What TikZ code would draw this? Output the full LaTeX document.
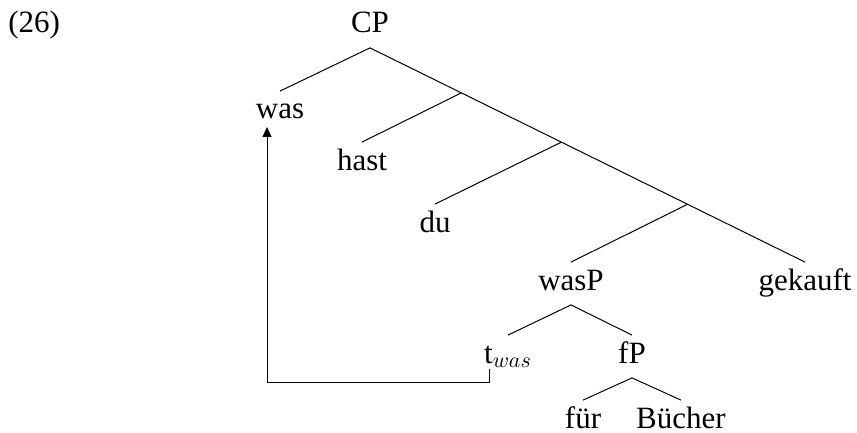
\documentclass[tikz,border=0pt]{standalone}
\usepackage{fontspec}
\setmainfont{Liberation Serif}
\usetikzlibrary{arrows.meta}
\begin{document}
\begin{tikzpicture}[x=0.5pt,y=0.5pt,yscale=-1,xscale=1,
  tnode/.style={anchor=base,inner xsep=0pt,inner ysep=3.75pt,text height=10pt,text depth=3.5pt,font=\fontsize{15.5}{18}\selectfont},
  branch/.style={line width=0.5pt},
  movearrow/.style={line width=0.5pt,-{Triangle[length=5pt,width=4.5pt]}}]
\useasboundingbox (0,0) rectangle (857,433);

% Text Node
\node (exnum) at (8,33) [tnode,anchor=base west] {(26)};
% Text Node
\node (cp) at (370,33) [tnode] {CP};
% Text Node
\node (was) at (280,119) [tnode] {was};
% Text Node
\node (hast) at (362,170) [tnode] {hast};
% Text Node
\node (du) at (435,232) [tnode] {du};
% Text Node
\node (wasp) at (571,290) [tnode] {wasP};
% Text Node
\node (gekauft) at (805,290) [tnode] {gekauft};
% Text Node
\node (twas) at (508,363) [tnode] {t$_{was}$};
% Text Node
\node (fp) at (632,363) [tnode] {fP};
% Text Node
\node (fuer) at (583,428) [tnode] {für};
% Text Node
\node (buecher) at (681,428) [tnode] {Bücher};

%Straight Lines
\draw [branch] (cp.south) -- (gekauft.north)
  coordinate [pos=0.210] (b1)
  coordinate [pos=0.440] (b2)
  coordinate [pos=0.730] (b3);
\draw [branch] (cp.south) -- (was.north);
\draw [branch] (b1) -- (hast.north);
\draw [branch] (b2) -- (du.north);
\draw [branch] (b3) -- (wasp.north);
%Straight Lines
\draw [branch] (wasp.south) -- (twas.north);
\draw [branch] (wasp.south) -- (fp.north);
\draw [branch] (fp.south) -- (fuer.north);
\draw [branch] (fp.south) -- (buecher.north);

%Movement arrow
\coordinate (mvfoot) at (489,369);
\coordinate (mvtop) at (267,127);
\draw [movearrow] (mvfoot) -- ++(0,13) -| (mvtop);

\end{tikzpicture}
\end{document}
